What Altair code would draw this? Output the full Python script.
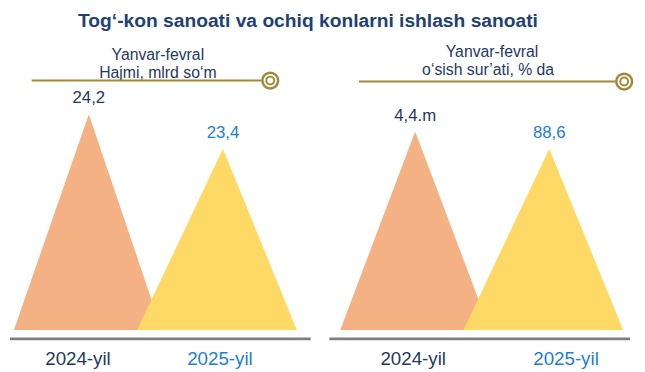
import altair as alt
import pandas as pd

# ---------------- data ----------------
TITLE = "Tog‘-kon sanoati va ochiq konlarni ishlash sanoati"
years = ["2024-yil", "2025-yil"]

panel1_header = ["Yanvar-fevral", "Hajmi, mlrd so‘m"]
panel1_labels = ["24,2", "23,4"]
panel1_shape = [100, 84]          # relative drawn height of the triangles

panel2_header = ["Yanvar-fevral", "o‘sish sur’ati, % da"]
panel2_labels = ["4,4.m", "88,6"]
panel2_shape = [92, 84]

# ---------------- layout / style ----------------
W, H, S = 305, 289, 19
YMAX = 132
PEACH, YELLOW = "#F4B183", "#FFD966"
NAVY, BLUE = "#1F3864", "#1C7ED6"
GOLD, GRAY = "#A08A3A", "#7F7F7F"
TITLE_COLOR = "#1F3F77"
FONT = "Liberation Sans"

layouts = [
    dict(left=[4, 129], apex=[80, 216], right=[154, 291], xlab=[69, 213],
         head_x=[150, 150], head_y=[10, 28], rule=(22, 255, 36), circ=(264, 36)),
    dict(left=[11, 136], apex=[87, 223], right=[163, 298], xlab=[85, 240],
         head_x=[165, 161], head_y=[7, 25], rule=(30, 290, 37), circ=(299, 37)),
]

xs = alt.Scale(domain=[0, W], nice=False, zero=False)
ys = alt.Scale(domain=[0, YMAX], nice=False)
text_color = alt.Color("year:N", scale=alt.Scale(domain=years, range=[NAVY, BLUE]), legend=None)
one = pd.DataFrame({"a": [0]})


def panel(labels, shape, header, lay):
    rows = []
    for i, (yr, h) in enumerate(zip(years, shape)):
        rows += [dict(year=yr, pos=lay["left"][i], h=0),
                 dict(year=yr, pos=lay["apex"][i], h=h),
                 dict(year=yr, pos=lay["right"][i], h=0)]
    tri = pd.DataFrame(rows)
    layers = []
    for yr, col in zip(years, [PEACH, YELLOW]):
        layers.append(
            alt.Chart(tri).transform_filter(alt.datum.year == yr)
            .mark_area(color=col, opacity=1, interpolate="linear")
            .encode(x=alt.X("pos:Q", scale=xs, axis=None),
                    y=alt.Y("h:Q", scale=ys, axis=None, stack=None))
        )
    vals = pd.DataFrame({"year": years, "label": labels, "pos": lay["apex"], "h": shape})
    layers.append(
        alt.Chart(vals).mark_text(font=FONT, fontSize=17, baseline="middle", dy=-16)
        .encode(x=alt.X("pos:Q", scale=xs, axis=None),
                y=alt.Y("h:Q", scale=ys, axis=None),
                text="label:N", color=text_color)
    )
    xl = pd.DataFrame({"year": years, "pos": lay["xlab"]})
    layers.append(
        alt.Chart(xl).mark_text(font=FONT, fontSize=19, baseline="middle")
        .encode(x=alt.X("pos:Q", scale=xs, axis=None), y=alt.value(H + 30),
                text="year:N", color=text_color)
    )
    # baseline
    layers.append(
        alt.Chart(one).mark_rule(color=GRAY, strokeWidth=3)
        .encode(x=alt.value(0), x2=alt.value(W), y=alt.value(H + 9))
    )
    # header text
    for t, hx, hy in zip(header, lay["head_x"], lay["head_y"]):
        layers.append(
            alt.Chart(one).mark_text(text=t, font=FONT, fontSize=16, color=NAVY, baseline="middle")
            .encode(x=alt.value(hx), y=alt.value(hy))
        )
    x0, x1, ry = lay["rule"]
    layers.append(
        alt.Chart(one).mark_rule(color=GOLD, strokeWidth=2)
        .encode(x=alt.value(x0), x2=alt.value(x1), y=alt.value(ry))
    )
    cx, cy = lay["circ"]
    layers.append(
        alt.Chart(one).mark_point(shape="circle", filled=False, color=GOLD, strokeWidth=2.5,
                                  size=256, opacity=1)
        .encode(x=alt.value(cx), y=alt.value(cy))
    )
    layers.append(
        alt.Chart(one).mark_point(shape="circle", filled=False, color=GOLD, strokeWidth=2,
                                  size=64, opacity=1)
        .encode(x=alt.value(cx), y=alt.value(cy))
    )
    return alt.layer(*layers).properties(width=W, height=H)


p1 = panel(panel1_labels, panel1_shape, panel1_header, layouts[0])
p2 = panel(panel2_labels, panel2_shape, panel2_header, layouts[1])

chart = (
    alt.hconcat(p1, p2, spacing=S, bounds="flush")
    .properties(
        padding=0,
        title=alt.TitleParams(TITLE, fontSize=19.5, font=FONT, fontWeight="bold",
                              color=TITLE_COLOR, anchor="middle", dx=-15, offset=13),
    )
    .configure_view(stroke=None)
)

chart.save("out.html", embed_options={"renderer": "svg", "actions": False})
